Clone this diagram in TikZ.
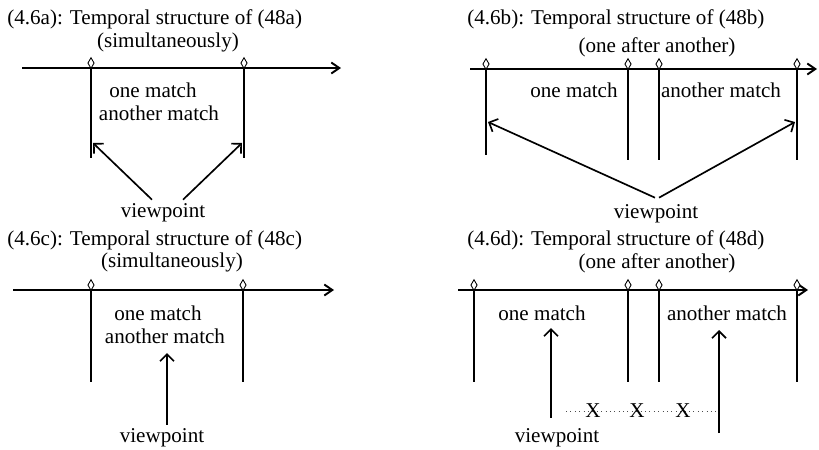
\documentclass[tikz,border=0pt]{standalone}
\usepackage{fontspec}
\setmainfont{Liberation Serif}
\usetikzlibrary{arrows.meta, positioning, shapes.geometric, calc}

\begin{document}
\begin{tikzpicture}[
  x=0.02cm, y=-0.02cm,
  txt/.style={font=\fontsize{12}{13}\selectfont, inner sep=0pt},
  timeline/.style={line width=1.1pt, -{Straight Barb[length=1.6mm, width=2.2mm]}},
  bar/.style={line width=1.3pt},
  tickmark/.style={diamond, draw, fill=white, line width=0.5pt, inner sep=0pt,
    minimum width=0.13cm, minimum height=0.22cm, anchor=south},
  look/.style={line width=0.95pt, -{Straight Barb[length=1.4mm, width=2.8mm]}},
  gap/.style={dotted, line width=0.5pt, black!70},
]
  \useasboundingbox (0,0) rectangle (819,450);

  % (4.6a) simultaneously
  \node[txt, anchor=base west] (titleA) at (7,24) {(4.6a): Temporal structure of (48a)};
  \node[txt, anchor=base] (modeA) at (168,47) {(simultaneously)};
  \coordinate (a0) at (22,68);
  \coordinate (a9) at (341,68);
  \draw[timeline] (a0) -- (a9);
  \foreach \n/\x in {1/91, 2/244} {
    \node[tickmark] (tickA\n) at (\x,69) {};
    \coordinate (barA\n) at (\x,158);
    \draw[bar] (tickA\n.south) -- (barA\n);
  }
  \node[txt, anchor=base] (oneA) at (153,97) {one match};
  \node[txt, anchor=base] (anotherA) at (159,120) {another match};
  \node[txt, anchor=base] (viewA) at (163,217) {viewpoint};
  \coordinate (hitA1) at (93,143);
  \coordinate (hitA2) at (242,143);
  \draw[look] ($(viewA.north)+(-11,-3)$) -- (hitA1);
  \draw[look] ($(viewA.north)+(20,-3)$) -- (hitA2);

  % (4.6b) one after another
  \node[txt, anchor=base west] (titleB) at (467,24) {(4.6b): Temporal structure of (48b)};
  \node[txt, anchor=base] (modeB) at (657,52) {(one after another)};
  \coordinate (b0) at (470,69);
  \coordinate (b9) at (817,69);
  \draw[timeline] (b0) -- (b9);
  \foreach \n/\x/\y in {1/486/155, 2/628/160, 3/659/160, 4/797/160} {
    \node[tickmark] (tickB\n) at (\x,70) {};
    \coordinate (barB\n) at (\x,\y);
    \draw[bar] (tickB\n.south) -- (barB\n);
  }
  \node[txt, anchor=base] (oneB) at (574,97) {one match};
  \node[txt, anchor=base] (anotherB) at (721,97) {another match};
  \node[txt, anchor=base] (viewB) at (656,218) {viewpoint};
  \coordinate (hitB1) at (488,122);
  \coordinate (hitB4) at (795,122);
  \draw[look] ($(viewB.north)+(-1,-6)$) -- (hitB1);
  \draw[look] ($(viewB.north)+(3,-6)$) -- (hitB4);

  % (4.6c) simultaneously
  \node[txt, anchor=base west] (titleC) at (7,245) {(4.6c): Temporal structure of (48c)};
  \node[txt, anchor=base] (modeC) at (172,267) {(simultaneously)};
  \coordinate (c0) at (13,290);
  \coordinate (c9) at (334,290);
  \draw[timeline] (c0) -- (c9);
  \foreach \n/\x in {1/91, 2/243} {
    \node[tickmark] (tickC\n) at (\x,291) {};
    \coordinate (barC\n) at (\x,382);
    \draw[bar] (tickC\n.south) -- (barC\n);
  }
  \node[txt, anchor=base] (oneC) at (158,320) {one match};
  \node[txt, anchor=base] (anotherC) at (165,343) {another match};
  \node[txt, anchor=base] (viewC) at (162,442) {viewpoint};
  \coordinate (hitC) at (167,353);
  \draw[look] ($(viewC.north)+(5,-3)$) -- (hitC);

  % (4.6d) one after another
  \node[txt, anchor=base west] (titleD) at (467,245) {(4.6d): Temporal structure of (48d)};
  \node[txt, anchor=base] (modeD) at (657,268) {(one after another)};
  \coordinate (d0) at (458,290);
  \coordinate (d9) at (808,290);
  \draw[timeline] (d0) -- (d9);
  \foreach \n/\x in {1/474, 2/628, 3/659, 4/797} {
    \node[tickmark] (tickD\n) at (\x,291) {};
    \coordinate (barD\n) at (\x,382);
    \draw[bar] (tickD\n.south) -- (barD\n);
  }
  \node[txt, anchor=base] (oneD) at (542,320) {one match};
  \node[txt, anchor=base] (anotherD) at (727,320) {another match};
  \node[txt, anchor=base] (viewD) at (557,442) {viewpoint};
  \coordinate (hitD1) at (551,328);
  \coordinate (hitD2) at (719,330);
  \coordinate (freeD) at (719,433);
  \draw[look] ($(viewD.north)+(-6,-10)$) -- (hitD1);
  \draw[look] (freeD) -- (hitD2);
  \coordinate (gapD) at (566,411);
  \draw[gap] (gapD) -- (gapD -| freeD);
  \foreach \n/\x in {1/593, 2/637, 3/683}
    \node[txt] (crossD\n) at (\x,411) {X};
\end{tikzpicture}
\end{document}
